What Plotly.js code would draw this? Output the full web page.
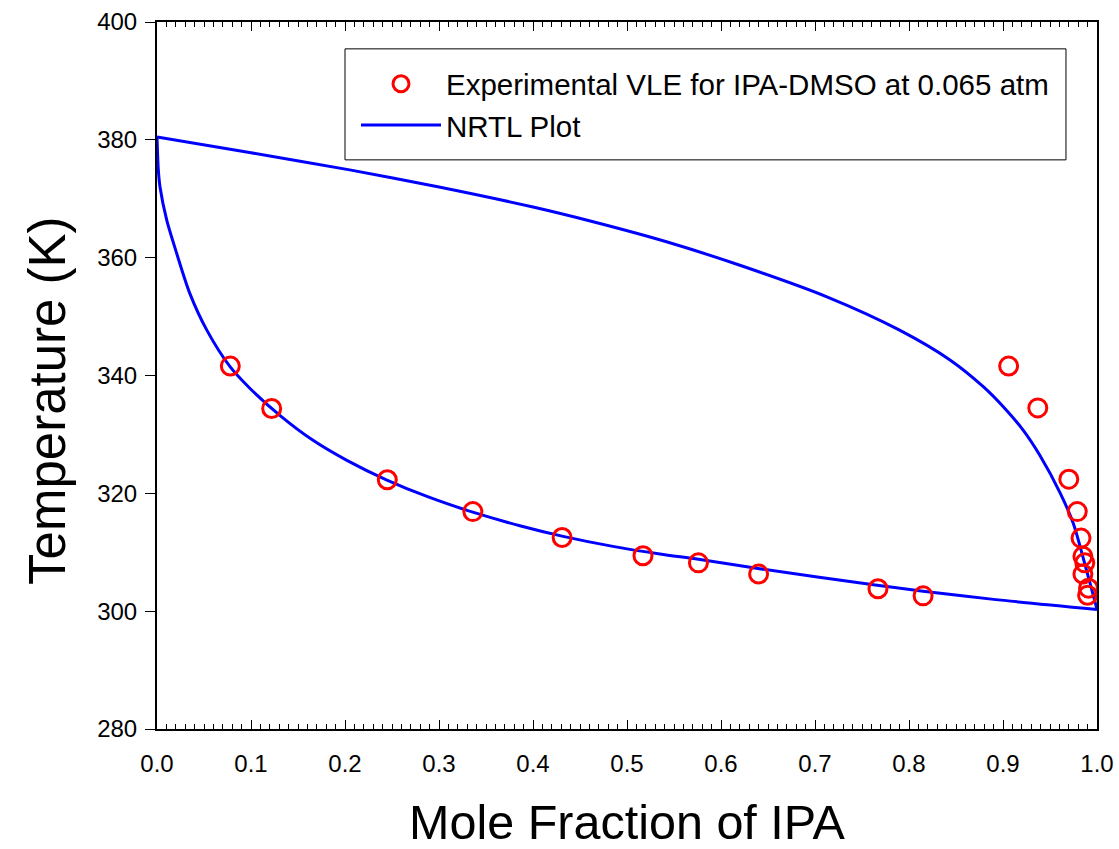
<!DOCTYPE html>
<html>
<head>
<meta charset="utf-8">
<script src="https://cdn.plot.ly/plotly-3.0.1.min.js"></script>
<style>html,body{margin:0;padding:0;background:#fff;}#chart{width:1119px;height:849px;}</style>
</head>
<body>
<div id="chart"></div>
<script>
// Experimental VLE points (liquid and vapour branches)
const liqX = [0.078, 0.122, 0.245, 0.336, 0.431, 0.517, 0.576, 0.640, 0.767, 0.815];
const liqT = [341.6, 334.4, 322.3, 316.9, 312.5, 309.4, 308.2, 306.3, 303.8, 302.6];
const vapX = [0.906, 0.937, 0.970, 0.979, 0.983, 0.985, 0.987, 0.985, 0.991, 0.990];
const vapT = [341.6, 334.5, 322.4, 316.9, 312.4, 309.3, 308.2, 306.3, 303.9, 302.7];

// NRTL bubble (lower) curve
const bubX = [0, 0.0014, 0.0032, 0.0103, 0.021, 0.035, 0.053, 0.0777, 0.099, 0.131, 0.166, 0.202, 0.244, 0.290, 0.336, 0.386, 0.432, 0.485, 0.535, 0.576, 0.641, 0.766, 0.815, 0.890, 1.0];
const bubT = [380.5, 374.9, 372.0, 366.4, 360.7, 353.9, 347.7, 341.5, 337.8, 333.2, 329.0, 325.6, 322.3, 319.3, 316.8, 314.5, 312.7, 311.0, 309.7, 308.8, 307.2, 304.4, 303.4, 302.0, 300.3];
// NRTL dew (upper) curve
const dewX = [0, 0.1, 0.205, 0.3, 0.4, 0.464, 0.542, 0.624, 0.712, 0.790, 0.844, 0.879, 0.902, 0.922, 0.939, 0.961, 0.975, 0.985, 0.993, 1.0];
const dewT = [380.5, 377.8, 374.9, 372.0, 368.6, 366.1, 362.7, 358.5, 353.4, 347.7, 342.6, 338.1, 334.4, 330.6, 326.5, 320.0, 314.8, 309.2, 304.5, 300.3];

const xTickVals = [0, 0.1, 0.2, 0.3, 0.4, 0.5, 0.6, 0.7, 0.8, 0.9, 1.0];
const xTickText = ['0.0','0.1','0.2','0.3','0.4','0.5','0.6','0.7','0.8','0.9','1.0'];
const yTickVals = [280, 300, 320, 340, 360, 380, 400];

const traces = [
  {
    x: bubX, y: bubT, mode: 'lines', name: 'NRTL Plot', legendgroup: 'nrtl', showlegend: false,
    line: {color: '#0000ff', width: 3, shape: 'spline', smoothing: 0.8}
  },
  {
    x: dewX, y: dewT, mode: 'lines', name: 'NRTL Plot', legendgroup: 'nrtl', showlegend: true,
    line: {color: '#0000ff', width: 3, shape: 'spline', smoothing: 0.8}
  },
  {
    x: liqX.concat(vapX), y: liqT.concat(vapT), mode: 'markers',
    name: 'Experimental VLE for IPA-DMSO at 0.065 atm',
    marker: {symbol: 'circle-open', size: 18, color: '#ff0000', line: {width: 3, color: '#ff0000'}}
  }
];

const layout = {
  width: 1119, height: 849,
  paper_bgcolor: '#fff', plot_bgcolor: '#fff',
  margin: {l: 157, r: 22, t: 22, b: 120},
  font: {family: 'Liberation Sans, Arial, sans-serif', color: '#000'},
  showlegend: true,
  legend: {
    x: 0.2117, xanchor: 'left', y: 0.949, yanchor: 'top',
    bgcolor: 'rgba(0,0,0,0)', borderwidth: 0,
    font: {size: 29.5, color: '#000'}, traceorder: 'reversed', itemwidth: 80,
    tracegroupgap: 0
  },
  shapes: [
    {type: 'rect', xref: 'paper', yref: 'paper', x0: 0.2, x1: 0.967, y0: 0.805, y1: 0.962,
     line: {color: '#000', width: 1}, fillcolor: 'rgba(0,0,0,0)', layer: 'below'}
  ],
  annotations: [
    {text: 'Temperature (K)', textangle: -90, xref: 'paper', yref: 'paper',
     x: -0.116, y: 0.464, xanchor: 'center', yanchor: 'middle', showarrow: false,
     font: {size: 51, color: '#000'}}
  ],
  xaxis: {
    range: [0, 1], tickvals: xTickVals, ticktext: xTickText,
    ticks: 'inside', ticklen: 9, tickwidth: 1, tickcolor: '#000',
    minor: {dtick: 0.01, ticks: 'inside', ticklen: 5, tickwidth: 1, tickcolor: '#000', showgrid: false},
    showline: true, linecolor: '#000', linewidth: 2, mirror: 'allticks',
    showgrid: false, zeroline: false, ticklabelstandoff: 12,
    tickfont: {size: 24, color: '#000'},
    title: {text: 'Mole Fraction of IPA', font: {size: 48.5, color: '#000'}, standoff: 32}
  },
  yaxis: {
    range: [280, 400], tickvals: yTickVals,
    ticks: 'outside', ticklen: 10, tickwidth: 1, tickcolor: '#000',
    showline: true, linecolor: '#000', linewidth: 2, mirror: true,
    showgrid: false, zeroline: false, ticklabelstandoff: 3,
    tickfont: {size: 24, color: '#000'}
  }
};

Plotly.newPlot('chart', traces, layout, {displayModeBar: false, staticPlot: true});
</script>
</body>
</html>
